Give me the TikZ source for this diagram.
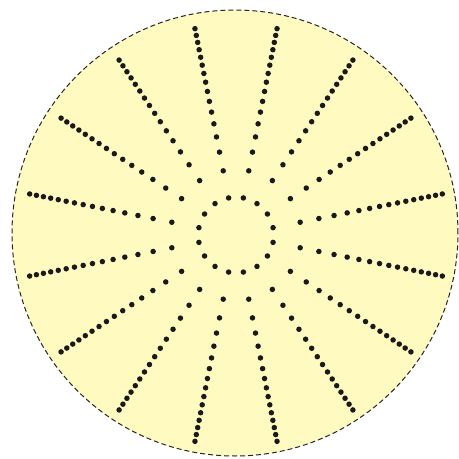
\documentclass[tikz,border=0pt]{standalone}
\usetikzlibrary{calc}
\definecolor{sunyellow}{HTML}{FFFAC0}
\begin{document}
\begin{tikzpicture}[
        x=1pt, y=-1pt,
        disc/.style={draw=black!85, dash pattern=on 5pt off 3pt, line width=1pt, fill=sunyellow, circle, minimum size=446pt, inner sep=0pt},
        dot/.style={fill=black!90, circle, minimum size=5.5pt, inner sep=0pt},
    ]
    \useasboundingbox (0,0) rectangle (459,459);
    \node[disc](disc) at (235,233){};
    \coordinate (hub) at (236,235);
    % 16 spokes, rings of dots at equal-area radii
    \foreach \k in {0,...,15}{
        \foreach \n in {0,...,15}{
            \node[dot](d-\k-\n) at ($(hub)+({11.25+22.5*\k}:{53.44*sqrt(\n+0.5)})$){};
        }
    }
\end{tikzpicture}
\end{document}
